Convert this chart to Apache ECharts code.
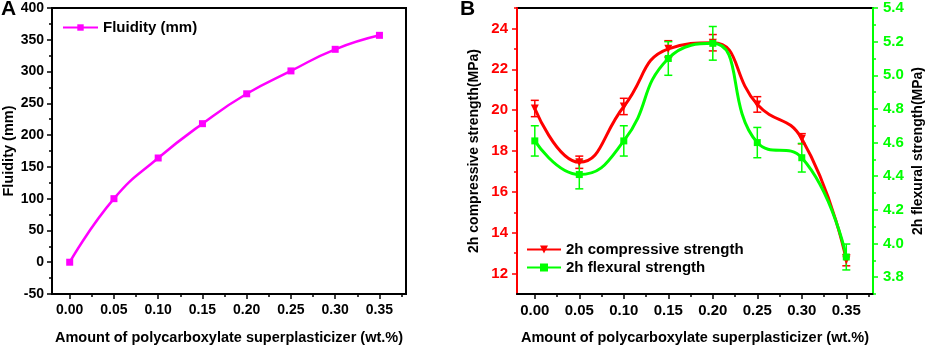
<!DOCTYPE html>
<html>
<head>
<meta charset="utf-8">
<script src="https://cdn.jsdelivr.net/npm/echarts@6/dist/echarts.min.js"></script>
<style>
html,body{margin:0;padding:0;background:#fff;}
#charts{width:927px;height:350px;}
</style>
</head>
<body>
<div id="charts"></div>
<script>
// 横轴取值
var xVals = [0, 0.05, 0.10, 0.15, 0.20, 0.25, 0.30, 0.35];
// A: 流动度
var fluidity = [0, 100, 164, 218, 265, 301, 335, 357];
// B: 抗压 / 抗折强度 及误差
var compressive = [20.08, 17.45, 20.18, 23.0, 23.3, 20.28, 18.6, 12.65];
var compressiveErr = [0.4, 0.3, 0.4, 0.4, 0.4, 0.38, 0.25, 0.27];
var flexural = [4.61, 4.41, 4.61, 5.10, 5.19, 4.60, 4.51, 3.92];
var flexuralErr = [0.09, 0.085, 0.09, 0.1, 0.1, 0.09, 0.085, 0.077];
// 刻度
var xTicks = [0, 0.05, 0.10, 0.15, 0.20, 0.25, 0.30, 0.35];
var xMinorTicks = [0.025, 0.075, 0.125, 0.175, 0.225, 0.275, 0.325, 0.375];
var compTicks = [12, 14, 16, 18, 20, 22, 24];
var compMinorTicks = [13, 15, 17, 19, 21, 23, 25];
var flexTicks = [3.8, 4.0, 4.2, 4.4, 4.6, 4.8, 5.0, 5.2, 5.4];
var flexMinorTicks = [3.7, 3.9, 4.1, 4.3, 4.5, 4.7, 4.9, 5.1, 5.3];

var RED = '#ff0000', GREEN = '#00ff00', MAG = '#ff00ff';
var FONT = 'Liberation Sans';

function zip(a, b, c){
	var out = [];
	for(var i=0;i<a.length;i++){
		out.push(c ? [a[i], b[i], c[i]] : [a[i], b[i]]);
	}
	return out;
}

//误差棒
function errorBar(color){
	return function(params, api){
		var x = api.value(0), y = api.value(1), e = api.value(2);
		var top = api.coord([x, y + e]);
		var bot = api.coord([x, y - e]);
		var w = 4;
		var st = {stroke: color, lineWidth: 1.5};
		return {
			type: 'group',
			children: [
				{type:'line', shape:{x1:top[0], y1:top[1], x2:bot[0], y2:bot[1]}, style: st},
				{type:'line', shape:{x1:top[0]-w, y1:top[1], x2:top[0]+w, y2:top[1]}, style: st},
				{type:'line', shape:{x1:bot[0]-w, y1:bot[1], x2:bot[0]+w, y2:bot[1]}, style: st}
			]
		};
	};
}

function mainX(gridIndex, fs){
	return {
		type:'value', gridIndex: gridIndex, min:-0.02, max:0.38, position:'bottom',
		axisLine:{show:true, onZero:false, lineStyle:{color:'#000', width:2}},
		axisTick:{show:true, inside:false, length:5, customValues:xTicks, lineStyle:{color:'#000', width:1.5}},
		axisLabel:{customValues:xTicks, formatter:function(v){return v.toFixed(2);},
			color:'#000', fontFamily:FONT, fontWeight:'bold', fontSize:fs, margin:9},
		splitLine:{show:false},
		name:'Amount of polycarboxylate superplasticizer (wt.%)',
		nameLocation:'middle', nameGap:36,
		nameTextStyle:{color:'#000', fontFamily:FONT, fontWeight:'bold', fontSize:14.5}
	};
}
//次刻度轴
function minorAxis(gridIndex, min, max, vals, pos, color){
	return {
		type:'value', gridIndex: gridIndex, min:min, max:max, position:pos,
		axisLine:{show:false, onZero:false},
		axisTick:{show:true, inside:false, length:3, customValues:vals, lineStyle:{color:color, width:1.5}},
		axisLabel:{show:false},
		splitLine:{show:false}
	};
}

var charts = echarts.init(document.getElementById('charts'));
var option = {
	animation:false,
	backgroundColor:'#fff',
	title:[
		{text:'A', left:1, top:-1, padding:0, textStyle:{fontFamily:FONT, fontWeight:'bold', fontSize:21, color:'#000'}},
		{text:'B', left:460, top:-1, padding:0, textStyle:{fontFamily:FONT, fontWeight:'bold', fontSize:21, color:'#000'}}
	],
	legend:[{
		data:['Fluidity (mm)'],
		left:62, top:20, padding:0,
		itemWidth:35, itemHeight:8,
		textStyle:{fontFamily:FONT, fontWeight:'bold', fontSize:15, color:'#000'}
	},{
		data:['2h compressive strength','2h flexural strength'],
		orient:'vertical',
		left:526, top:242, padding:0, itemGap:3,
		itemWidth:34, itemHeight:10,
		textStyle:{fontFamily:FONT, fontWeight:'bold', fontSize:15, color:'#000'}
	}],
	grid:[
		{left:52, top:8, width:354, height:286, show:true, borderColor:'#000', borderWidth:2, backgroundColor:'transparent'},
		{left:517, top:8, width:356, height:289, show:true, borderColor:'#000', borderWidth:2, backgroundColor:'transparent'}
	],
	xAxis:[
		mainX(0, 14),
		minorAxis(0, -0.02, 0.38, xMinorTicks, 'bottom', '#000'),
		mainX(1, 15),
		minorAxis(1, -0.02, 0.38, xMinorTicks, 'bottom', '#000')
	],
	yAxis:[{
		type:'value', gridIndex:0, min:-50, max:400, interval:50, position:'left',
		axisLine:{show:true, onZero:false, lineStyle:{color:'#000', width:2}},
		axisTick:{show:true, inside:false, length:5, lineStyle:{color:'#000', width:1.5}},
		minorTick:{show:true, splitNumber:2, length:3, lineStyle:{color:'#000', width:1.5}},
		axisLabel:{color:'#000', fontFamily:FONT, fontWeight:'bold', fontSize:14, margin:8},
		splitLine:{show:false},
		name:'Fluidity (mm)', nameLocation:'middle', nameGap:36, nameRotate:90,
		nameTextStyle:{color:'#000', fontFamily:FONT, fontWeight:'bold', fontSize:14.5}
	},{
		type:'value', gridIndex:1, min:11, max:25, position:'left',
		axisLine:{show:true, onZero:false, lineStyle:{color:RED, width:2}},
		axisTick:{show:true, inside:false, length:5, customValues:compTicks, lineStyle:{color:RED, width:1.5}},
		axisLabel:{customValues:compTicks, color:RED, fontFamily:FONT, fontWeight:'bold', fontSize:15, margin:9},
		splitLine:{show:false},
		name:'2h compressive strength(MPa)', nameLocation:'middle', nameGap:36, nameRotate:90,
		nameTextStyle:{color:'#000', fontFamily:FONT, fontWeight:'bold', fontSize:14}
	},
	minorAxis(1, 11, 25, compMinorTicks, 'left', RED),
	{
		type:'value', gridIndex:1, min:3.7, max:5.4, position:'right',
		axisLine:{show:true, onZero:false, lineStyle:{color:GREEN, width:2}},
		axisTick:{show:true, inside:false, length:5, customValues:flexTicks, lineStyle:{color:GREEN, width:1.5}},
		axisLabel:{customValues:flexTicks, formatter:function(v){return v.toFixed(1);},
			color:GREEN, fontFamily:FONT, fontWeight:'bold', fontSize:15, margin:10},
		splitLine:{show:false},
		name:'2h flexural strength(MPa)', nameLocation:'middle', nameGap:38, nameRotate:90,
		nameTextStyle:{color:'#000', fontFamily:FONT, fontWeight:'bold', fontSize:14}
	},
	minorAxis(1, 3.7, 5.4, flexMinorTicks, 'right', GREEN)
	],
	series:[{
		name:'Fluidity (mm)', type:'line', xAxisIndex:0, yAxisIndex:0,
		data:zip(xVals, fluidity), smooth:true,
		symbol:'rect', symbolSize:7, color:MAG,
		lineStyle:{width:2.5, color:MAG}, itemStyle:{color:MAG}
	},{
		type:'custom', xAxisIndex:2, yAxisIndex:1,
		data:zip(xVals, compressive, compressiveErr),
		renderItem:errorBar(RED), z:3
	},{
		type:'custom', xAxisIndex:2, yAxisIndex:3,
		data:zip(xVals, flexural, flexuralErr),
		renderItem:errorBar(GREEN), z:3
	},{
		name:'2h compressive strength', type:'line', xAxisIndex:2, yAxisIndex:1,
		data:zip(xVals, compressive), smooth:true,
		symbol:'triangle', symbolRotate:180, symbolSize:8, color:RED,
		lineStyle:{width:3, color:RED}, itemStyle:{color:RED}
	},{
		name:'2h flexural strength', type:'line', xAxisIndex:2, yAxisIndex:3,
		data:zip(xVals, flexural), smooth:true,
		symbol:'rect', symbolSize:7, color:GREEN,
		lineStyle:{width:3, color:GREEN}, itemStyle:{color:GREEN}
	}]
};
charts.setOption(option);
</script>
</body>
</html>
